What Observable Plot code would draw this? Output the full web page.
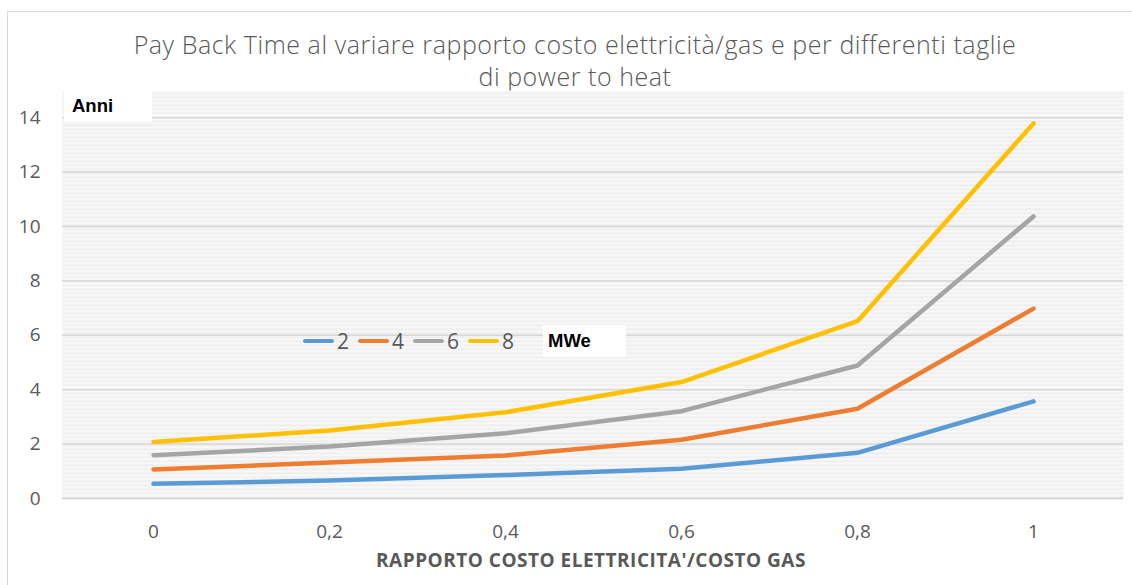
<!DOCTYPE html>
<html>
<head>
<meta charset="utf-8">
<script src="https://cdn.jsdelivr.net/npm/d3@7"></script>
<script src="https://cdn.jsdelivr.net/npm/@observablehq/plot@0.6"></script>
<style>
  html, body { margin: 0; padding: 0; background: #fff; }
  #wrap { position: relative; width: 1132px; height: 585px; overflow: hidden; font-family: "Open Sans", sans-serif; }
  #frame { position: absolute; left: 7px; top: 11px; width: 1200px; height: 700px; border-left: 1px solid #d9d9d9; border-top: 1px solid #d9d9d9; pointer-events: none; }
  #title { position: absolute; left: 0; top: 28px; width: 1150px; text-align: center; font-size: 25px; font-weight: 300; letter-spacing: 0.55px; color: #595959; line-height: 32px; }
  #chart { position: absolute; left: 0; top: 88px; }
  .box { position: absolute; background: #fff; font-family: "Liberation Sans", Arial, sans-serif; font-weight: bold; font-size: 18.5px; color: #000; }
  #anni { left: 64px; top: 90px; width: 88px; height: 32px; line-height: 32px; padding-left: 8px; box-sizing: border-box; }
  #mwe { left: 543px; top: 325px; width: 83px; height: 32px; line-height: 32px; padding-left: 5px; box-sizing: border-box; }
  #legend { position: absolute; left: 303px; top: 326px; height: 30px; display: flex; align-items: center; font-size: 21px; color: #595959; }
  .item { display: flex; align-items: center; margin-right: 9px; }
  .sw { width: 31px; height: 4px; border-radius: 2px; margin-right: 3px; }
  #xtitle { position: absolute; left: 0; top: 547px; width: 1182px; text-align: center; font-size: 19px; letter-spacing: 0.5px; font-weight: bold; color: #595959; }
</style>
</head>
<body>
<div id="wrap">
  <div id="frame"></div>
  <div id="title">Pay Back Time al variare rapporto costo elettricità/gas e per differenti taglie<br>di power to heat</div>
  <div id="chart"></div>
  <div class="box" id="anni">Anni</div>
  <div id="legend"></div>
  <div class="box" id="mwe">MWe</div>
  <div id="xtitle">RAPPORTO COSTO ELETTRICITA'/COSTO GAS</div>
</div>
<script>
// ---- data ----
const ratioLabels = ["0", "0,2", "0,4", "0,6", "0,8", "1"];
const sizes = ["2", "4", "6", "8"];
const mw2 = [0.54, 0.66, 0.86, 1.09, 1.68, 3.57];
const mw4 = [1.07, 1.32, 1.58, 2.16, 3.30, 6.98];
const mw6 = [1.59, 1.91, 2.40, 3.21, 4.89, 10.37];
const mw8 = [2.08, 2.50, 3.17, 4.28, 6.52, 13.79];
const colors = ["#5B9BD5", "#ED7D31", "#A5A5A5", "#FFC000"];
const yTicks = [0, 2, 4, 6, 8, 10, 12, 14];

const seriesValues = [mw2, mw4, mw6, mw8];
const rows = [];
sizes.forEach((s, i) => seriesValues[i].forEach((v, j) => rows.push({size: s, ratio: ratioLabels[j], years: v})));

const chart = Plot.plot({
  width: 1132,
  height: 497,
  marginLeft: 62,
  marginRight: 9,
  marginTop: 2,
  marginBottom: 87,
  style: {fontFamily: "'Open Sans', sans-serif", background: "transparent"},
  x: {type: "point", domain: ratioLabels, padding: 0.5, label: null},
  y: {domain: [0, 15], label: null},
  color: {domain: sizes, range: colors},
  marks: [
    Plot.frame({fill: "url(#stripes)", stroke: null}),
    Plot.gridY(yTicks.filter(d => d > 0), {stroke: "#d6d6d6", strokeOpacity: 1, strokeWidth: 1.5}),
    Plot.ruleY([0], {stroke: "#d0d0d0", strokeWidth: 1.5}),
    Plot.axisY(yTicks, {tickSize: 0, tickPadding: 22, fontSize: 19, fill: "#595959", label: null}),
    Plot.axisX({tickSize: 0, tickPadding: 26, fontSize: 19, fill: "#595959", label: null}),
    Plot.line(rows, {x: "ratio", y: "years", z: "size", stroke: "size", strokeWidth: 4.5, strokeLinecap: "round", strokeLinejoin: "round"})
  ]
});

// stripe pattern for the plot background
const ns = "http://www.w3.org/2000/svg";
const defs = document.createElementNS(ns, "defs");
const pat = document.createElementNS(ns, "pattern");
pat.setAttribute("id", "stripes");
pat.setAttribute("patternUnits", "userSpaceOnUse");
pat.setAttribute("width", "10");
pat.setAttribute("height", "4");
const r1 = document.createElementNS(ns, "rect");
r1.setAttribute("width", "10"); r1.setAttribute("height", "4"); r1.setAttribute("fill", "#f8f8f8");
const r2 = document.createElementNS(ns, "rect");
r2.setAttribute("width", "10"); r2.setAttribute("height", "1.5"); r2.setAttribute("fill", "#ececec");
pat.appendChild(r1); pat.appendChild(r2);
defs.appendChild(pat);
chart.insertBefore(defs, chart.firstChild);

document.getElementById("chart").appendChild(chart);

// legend
const leg = document.getElementById("legend");
sizes.forEach((s, i) => {
  const it = document.createElement("div");
  it.className = "item";
  const sw = document.createElement("div");
  sw.className = "sw";
  sw.style.background = colors[i];
  const t = document.createElement("span");
  t.textContent = s;
  it.appendChild(sw); it.appendChild(t);
  leg.appendChild(it);
});
</script>
</body>
</html>
